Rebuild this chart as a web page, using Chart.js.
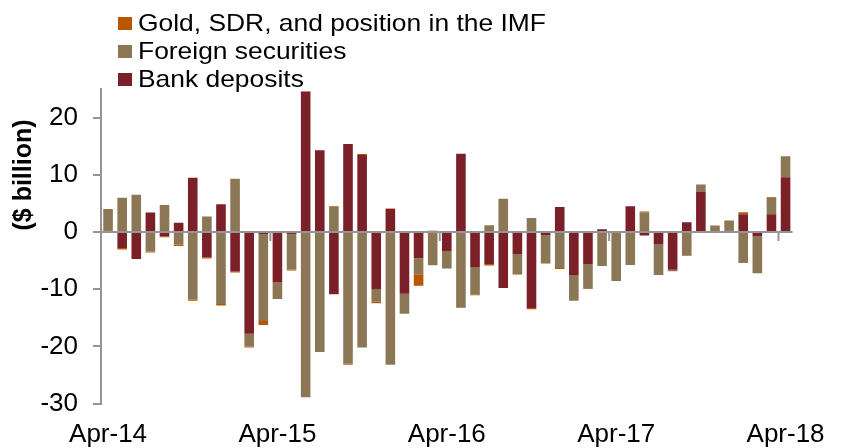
<!DOCTYPE html>
<html>
<head>
<meta charset="utf-8">
<script src="https://cdn.jsdelivr.net/npm/chart.js@4.4.1/dist/chart.umd.min.js"></script>
<style>
  html, body { margin: 0; padding: 0; background: #ffffff; }
  #wrap { position: relative; width: 841px; height: 448px; }
  #legend { position: absolute; left: 118px; top: 9px; font-family: "Liberation Sans", Arial, sans-serif; font-size: 24px; color: #000; }
  .row { display: flex; align-items: center; height: 28.2px; white-space: nowrap; }
  .sw { width: 14px; height: 13px; margin-right: 6px; flex: none; }
  .tx { display: inline-block; transform: scaleX(1.1); transform-origin: left center; }
</style>
</head>
<body>
<div id="wrap">
  <canvas id="c" width="841" height="448"></canvas>
  <div id="legend"></div>
</div>
<script>
const categories = [
  "Apr-14","May-14","Jun-14","Jul-14","Aug-14","Sep-14","Oct-14","Nov-14","Dec-14",
  "Jan-15","Feb-15","Mar-15","Apr-15","May-15","Jun-15","Jul-15","Aug-15","Sep-15","Oct-15","Nov-15","Dec-15",
  "Jan-16","Feb-16","Mar-16","Apr-16","May-16","Jun-16","Jul-16","Aug-16","Sep-16","Oct-16","Nov-16","Dec-16",
  "Jan-17","Feb-17","Mar-17","Apr-17","May-17","Jun-17","Jul-17","Aug-17","Sep-17","Oct-17","Nov-17","Dec-17",
  "Jan-18","Feb-18","Mar-18","Apr-18"
];
const tickLabels = ["Apr-14","Apr-15","Apr-16","Apr-17","Apr-18"];

const bankDeposits = [
  0.2, -2.8, -4.7, 3.4, -0.75, 1.6, 9.5, -4.4, 4.85,
  -6.9, -17.8, -0.35, -8.85, -0.4, 24.5, 14.3, -10.9, 15.4, 13.45, -9.95, 4.0,
  -10.8, -4.6, 0.2, -3.3, 13.7, -6.1, -5.6, -9.8, -3.85, -13.3, -0.6, 4.35,
  -7.5, -5.6, 0.5, 0, 4.5, -0.6, -2.1, -6.6, 1.7, 7.1, 0.15, 0.2,
  3.1, -0.8, 3.1, 9.55
];
const foreignSecurities = [
  3.8, 6.0, 6.5, -3.4, 4.7, -2.2, -11.85, 2.7, -12.6,
  9.3, -2.2, -15.2, -2.85, -6.2, -28.9, -21.0, 4.35, -23.0, -20.2, -2.25, -23.2,
  -3.5, -2.8, -5.8, -3.1, -13.2, -4.8, 1.2, 5.8, -3.5, 2.45, -4.8, -6.3,
  -4.5, -4.25, -5.95, -8.55, -5.75, 3.45, -5.4, -0.25, -4.1, 1.2, 1.0, 1.8,
  -5.4, -6.4, 2.9, 3.7
];
const goldSdrImf = [
  0, -0.25, 0, -0.2, -0.15, -0.25, -0.15, -0.25, -0.25,
  -0.2, -0.2, -0.7, 0, -0.15, 0.1, 0, 0.15, -0.2, 0.2, -0.25, 0.1,
  0, -2.0, 0, 0, -0.1, -0.15, -0.25, 0, -0.1, -0.2, -0.1, -0.15,
  0, -0.1, 0, 0, 0, 0.15, 0, 0, -0.1, 0, 0, 0,
  0.35, 0, 0.1, 0
];

const COLORS = { gold: "#B85700", sec: "#8B7755", bank: "#7B1F29" };
const AXIS_GREY = "#959595";
const FONT = "'Liberation Sans', Arial, sans-serif";

// HTML legend (order as in the reference)
const legendItems = [
  ["Gold, SDR, and position in the IMF", COLORS.gold],
  ["Foreign securities", COLORS.sec],
  ["Bank deposits", COLORS.bank]
];
const lg = document.getElementById("legend");
legendItems.forEach(([t, c]) => {
  const r = document.createElement("div"); r.className = "row";
  const s = document.createElement("span"); s.className = "sw"; s.style.background = c;
  const tx = document.createElement("span"); tx.className = "tx"; tx.textContent = t;
  r.appendChild(s); r.appendChild(tx); lg.appendChild(r);
});

const zeroAxisPlugin = {
  id: "zeroAxis",
  afterDatasetsDraw(chart) {
    const { ctx, chartArea, scales } = chart;
    const x = scales.x, y = scales.y;
    const y0 = y.getPixelForValue(0);
    ctx.save();
    ctx.strokeStyle = AXIS_GREY;
    ctx.lineWidth = 2;
    ctx.beginPath();
    ctx.moveTo(chartArea.left, y0);
    ctx.lineTo(chartArea.right, y0);
    ctx.stroke();
    for (let k = 12; k < categories.length; k += 12) {
      const px = (x.getPixelForValue(k - 1) + x.getPixelForValue(k)) / 2;
      ctx.beginPath();
      ctx.moveTo(px, y0);
      ctx.lineTo(px, y0 + 9);
      ctx.stroke();
    }
    ctx.restore();
  },
  afterDraw(chart) {
    const { ctx } = chart;
    ctx.save();
    ctx.translate(24, 175);
    ctx.rotate(-Math.PI / 2);
    ctx.font = "bold 25px " + FONT;
    ctx.fillStyle = "#000";
    ctx.textAlign = "center";
    ctx.textBaseline = "middle";
    ctx.fillText("($ billion)", 0, 0);
    ctx.restore();
  }
};

new Chart(document.getElementById("c"), {
  type: "bar",
  data: {
    labels: categories,
    datasets: [
      { label: "Bank deposits", data: bankDeposits, backgroundColor: COLORS.bank },
      { label: "Foreign securities", data: foreignSecurities, backgroundColor: COLORS.sec },
      { label: "Gold, SDR, and position in the IMF", data: goldSdrImf, backgroundColor: COLORS.gold }
    ]
  },
  options: {
    responsive: false,
    animation: false,
    layout: { padding: { top: 89, right: 41, bottom: 0, left: 0 } },
    datasets: { bar: { categoryPercentage: 1.0, barPercentage: 0.68, borderWidth: 0 } },
    plugins: { legend: { display: false }, tooltip: { enabled: false } },
    scales: {
      x: {
        stacked: true,
        grid: { display: false, drawTicks: false },
        border: { display: false },
        ticks: {
          autoSkip: false, maxRotation: 0, minRotation: 0, padding: 16,
          color: "#000", font: { family: FONT, size: 26 },
          callback: function(v, i) {
            const lab = categories[i];
            return tickLabels.includes(lab) ? lab : "";
          }
        },
        afterFit(scale) { scale.height = 44.4; }
      },
      y: {
        stacked: true,
        min: -30, max: 25,
        grid: { drawOnChartArea: false, drawTicks: true, tickLength: 8, color: AXIS_GREY, lineWidth: 2 },
        border: { display: true, color: AXIS_GREY, width: 2 },
        ticks: { stepSize: 10, padding: 15, color: "#000", font: { family: FONT, size: 26 } },
        afterBuildTicks(scale) { scale.ticks = scale.ticks.filter(t => t.value % 10 === 0); },
        afterFit(scale) { scale.width = 101; }
      }
    }
  },
  plugins: [zeroAxisPlugin]
});
</script>
</body>
</html>
